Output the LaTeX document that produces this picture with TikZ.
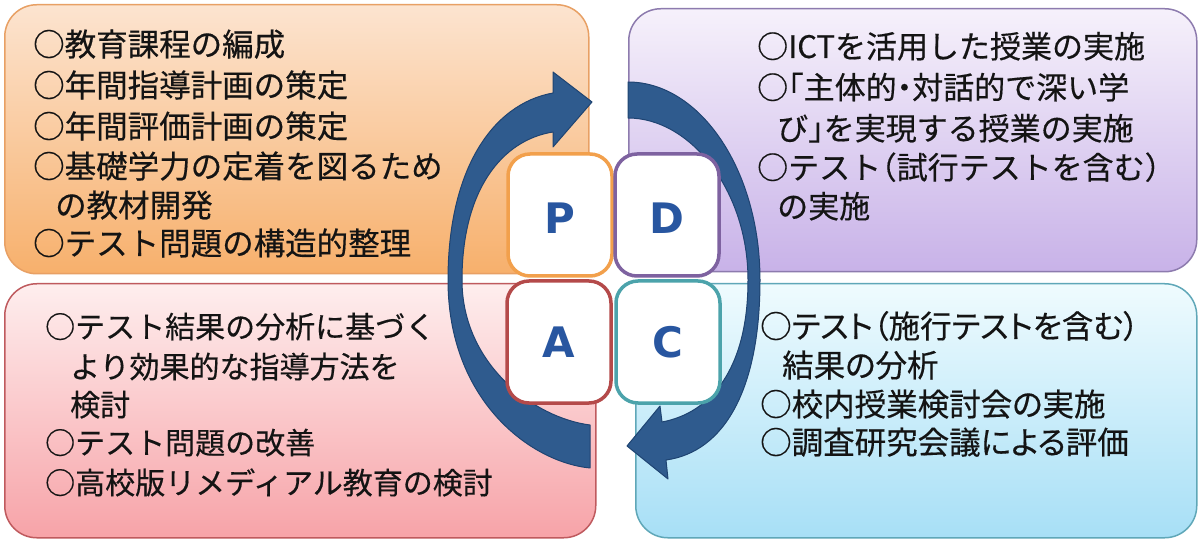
\documentclass[tikz,border=0pt]{standalone}
\usepackage{fontspec}
\newfontfamily\jpfont{Noto Sans CJK JP}[FakeBold=0.4]
\newfontfamily\jppalt{Noto Sans CJK JP}[FakeBold=0.4,RawFeature=+palt]
\newfontfamily\jphalt{Noto Sans CJK JP}[FakeBold=0.4,RawFeature=+halt]
\newfontfamily\ltrfont{DejaVu Sans}
\newcommand{\hwc}[1]{{\jphalt #1}}
\definecolor{Ptop}{RGB}{252,228,208}
\definecolor{Pbot}{RGB}{247,176,108}
\definecolor{Pline}{RGB}{232,160,100}
\definecolor{Dtop}{RGB}{246,241,251}
\definecolor{Dbot}{RGB}{200,178,232}
\definecolor{Dline}{RGB}{141,123,174}
\definecolor{Atop}{RGB}{254,238,238}
\definecolor{Abot}{RGB}{247,163,168}
\definecolor{Aline}{RGB}{191,90,94}
\definecolor{Ctop}{RGB}{239,251,254}
\definecolor{Cbot}{RGB}{167,223,246}
\definecolor{Cline}{RGB}{95,167,184}
\definecolor{Psmall}{RGB}{242,160,76}
\definecolor{Dsmall}{RGB}{126,98,160}
\definecolor{Asmall}{RGB}{180,74,74}
\definecolor{Csmall}{RGB}{76,163,171}
\definecolor{letterblue}{RGB}{40,86,160}
\definecolor{arrowfill}{RGB}{47,91,142}
\definecolor{arrowline}{RGB}{31,68,114}
\definecolor{txtcol}{RGB}{20,20,20}
\begin{document}
\begin{tikzpicture}[x=1pt,y=-1pt,
  bigbox/.style={rounded corners=32pt, line width=1.5pt, anchor=north west, inner sep=0pt},
  smallbox/.style={rounded corners=22pt, line width=3.5pt, fill=white, minimum width=104pt,
    minimum height=122pt, anchor=center, inner sep=0pt,
    font=\ltrfont\bfseries\fontsize{42}{42}\selectfont, text=letterblue, text depth=0pt},
  txt/.style={anchor=west, inner sep=0pt, text height=26pt, text depth=4pt, text=txtcol},
  ptxt/.style={txt, font=\jpfont\fontsize{31.5}{36}\selectfont},
  dtxt/.style={txt, font=\jpfont\fontsize{31}{36}\selectfont},
  atxt/.style={txt, font=\jpfont\fontsize{30}{36}\selectfont},
  ctxt/.style={txt, font=\jppalt\fontsize{31.5}{36}\selectfont},
  bigarrow/.style={fill=arrowfill, draw=arrowline, line width=1pt, line join=round}]
\useasboundingbox (0,0) rectangle (1200,540);
\fill[white] (0,0) rectangle (1200,540);

% quadrant boxes
\node[bigbox, draw=Pline, top color=Ptop, bottom color=Pbot, minimum width=584pt, minimum height=269pt] (Pbox) at (4,4) {};
\node[bigbox, draw=Dline, top color=Dtop, bottom color=Dbot, minimum width=568pt, minimum height=263pt] (Dbox) at (628,8) {};
\node[bigbox, draw=Aline, top color=Atop, bottom color=Abot, minimum width=591pt, minimum height=254pt] (Abox) at (4,283) {};
\node[bigbox, draw=Cline, top color=Ctop, bottom color=Cbot, minimum width=561pt, minimum height=254pt] (Cbox) at (635,283) {};

% circular arrows
\filldraw[bigarrow] (590,468) .. controls (530,462) and (448,400) .. (448,280)
  .. controls (448,170) and (492,104) .. (553,93) -- (553,72) -- (592,102) -- (553,147) -- (553,132)
  .. controls (502,140) and (462,190) .. (462,280)
  .. controls (462,365) and (535,418) .. (590,425) -- cycle;
\filldraw[bigarrow] (628,82) .. controls (700,82) and (760,170) .. (760,280)
  .. controls (760,390) and (724,452) .. (666,460) -- (668,479) -- (627,446) -- (660,406) -- (662,422)
  .. controls (710,413) and (748,370) .. (748,280)
  .. controls (748,190) and (690,118) .. (628,118) -- cycle;

% PDCA boxes
\node[smallbox, draw=Psmall, text height=37pt] (P) at (560,215) {P};
\node[smallbox, draw=Dsmall, text height=37pt] (D) at (667,215) {D};
\node[smallbox, draw=Asmall, text height=30pt] (A) at (559,342) {A};
\node[smallbox, draw=Csmall, text height=30pt] (C) at (668,342) {C};

% texts P
\node[ptxt] (p1) at (33,45)  {○教育課程の編成};
\node[ptxt] (p2) at (33,86)  {○年間指導計画の策定};
\node[ptxt] (p3) at (33,127) {○年間評価計画の策定};
\node[ptxt] (p4) at (33,167) {○基礎学力の定着を図るため};
\node[ptxt] (p5) at (55,206) {の教材開発};
\node[ptxt] (p6) at (33,244) {○テスト問題の構造的整理};
% texts D
\node[dtxt] (d1) at (757,47)  {○ICTを活用した授業の実施};
\node[dtxt] (d2) at (757,88)  {○\hwc{「}主体的\hwc{・}対話的で深い学};
\node[dtxt] (d3) at (777,129) {び\hwc{」}を実現する授業の実施};
\node[dtxt] (d4) at (757,168) {○テスト\hwc{（}試行テストを含む\hwc{）}};
\node[dtxt] (d5) at (777,207) {の実施};
% texts A
\node[atxt] (a1) at (45,327) {○テスト結果の分析に基づく};
\node[atxt] (a2) at (70,367) {より効果的な指導方法を};
\node[atxt] (a3) at (70,405) {検討};
\node[atxt] (a4) at (45,443) {○テスト問題の改善};
\node[atxt] (a5) at (45,483) {○高校版リメディアル教育の検討};
% texts C
\node[ctxt] (c1) at (760,327) {○テスト（施行テストを含む）};
\node[ctxt] (c2) at (782,366) {結果の分析};
\node[ctxt] (c3) at (760,405) {○校内授業検討会の実施};
\node[ctxt] (c4) at (760,443) {○調査研究会議による評価};
\end{tikzpicture}
\end{document}
